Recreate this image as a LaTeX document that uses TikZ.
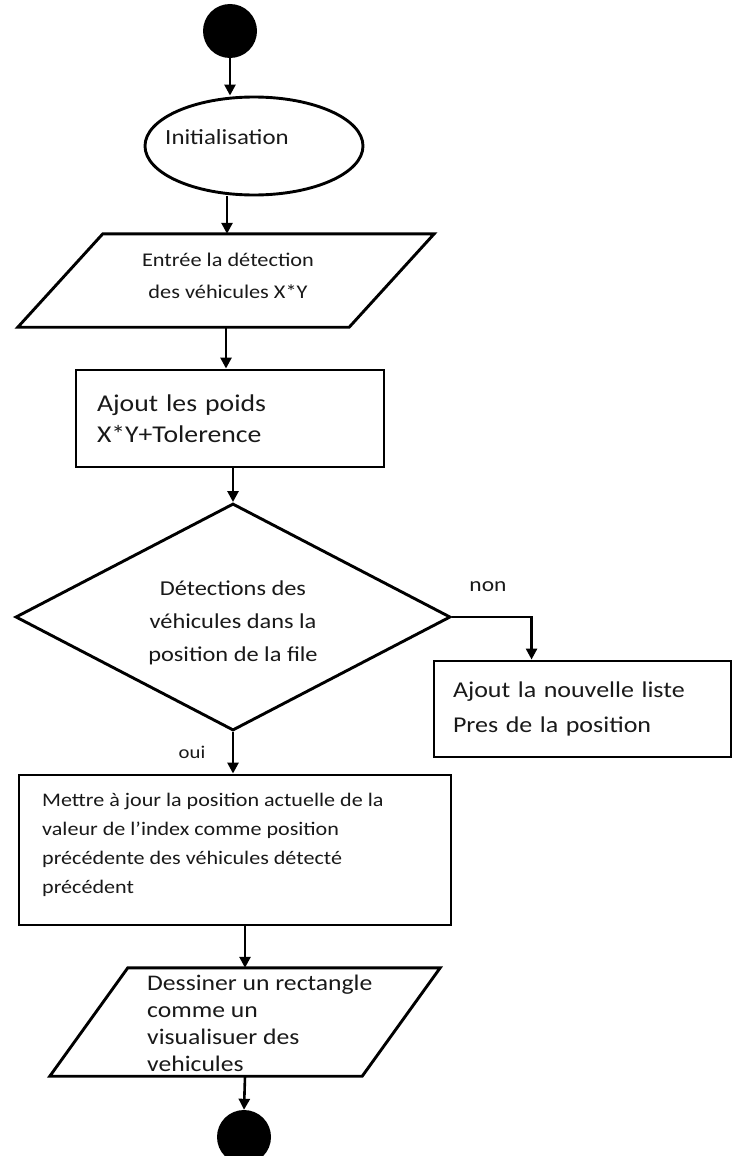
\documentclass[tikz,border=0pt]{standalone}
\usepackage{fontspec}
\setmainfont[FakeStretch=1.15]{Carlito}
\usetikzlibrary{shapes.geometric,arrows.meta}

\tikzset{
  flow/.style={draw=black, line width=2.9pt},
  arr/.style={line width=2.6pt, -{Triangle[length=11pt,width=11pt]}},
  term/.style={circle, fill=black, draw=none, minimum size=54pt, inner sep=0pt},
  procbox/.style={flow, rectangle, inner ysep=0pt, align=left, text=black!90},
  iobody/.style={rectangle, draw=none, inner sep=0pt},
  txt/.style={text=black!90, inner sep=0pt},
}

\begin{document}
\begin{tikzpicture}[x=1pt,y=-1pt]
\useasboundingbox (0,0) rectangle (734,1156);
\fill[white] (0,0) rectangle (734,1156);

% start and initialisation
\node[term] (start) at (230,31) {};
\node[flow, ellipse, minimum width=218pt, minimum height=98pt, inner sep=0pt] (init) at (254,146) {};
\node[txt, font=\fontsize{21.6}{26}\selectfont] (initText) at (227,137) {Initialisation};

% input of the detections (slanted box: body plus 42.5 on each side)
\node[iobody, minimum width=331pt, minimum height=93pt] (in1) at (226,280.5) {};
\draw[flow, line join=miter]
  ([xshift=42.5pt]in1.north west) -- ([xshift=42.5pt]in1.north east)
  -- ([xshift=-42.5pt]in1.south east) -- ([xshift=-42.5pt]in1.south west) -- cycle;
\node[txt, align=center, font=\fontsize{19.4}{32}\selectfont] (in1Text) at (228,276)
  {Entrée la détection\\des véhicules X*Y};

% weights
\node[procbox, minimum width=308pt, minimum height=97pt, text width=266pt, inner xsep=21pt,
      font=\fontsize{24.1}{31}\selectfont] (box1) at (230,418.5)
  {Ajout les poids\\X*Y+Tolerence};

% decision
\node[flow, diamond, minimum width=435pt, minimum height=227pt, inner sep=0pt] (dia) at (233,617) {};
\node[txt, align=center, font=\fontsize{21.2}{33}\selectfont] (diaText) at (233,623)
  {Détections des\\véhicules dans la\\position de la file};

% branch "non"
\node[procbox, minimum width=297pt, minimum height=96pt, text width=259pt, inner xsep=19pt,
      font=\fontsize{22.6}{35}\selectfont] (box3) at (582.5,709)
  {Ajout la nouvelle liste\\Pres de la position};

% branch "oui"
\node[procbox, minimum width=432pt, minimum height=150pt, text width=386pt, inner xsep=23pt,
      font=\fontsize{19.2}{29}\selectfont] (box2) at (235,850) {};
\node[txt, anchor=west, align=left, font=\fontsize{19.2}{29}\selectfont] (box2Text) at (42,845)
  {Mettre à jour la position actuelle de la\\valeur de l'index comme position\\précédente des véhicules détecté\\précédent};

% drawing output (slanted box: body plus 39 on each side)
\node[iobody, minimum width=312pt, minimum height=108pt] (in2) at (245,1022) {};
\draw[flow, line join=miter]
  ([xshift=39pt]in2.north west) -- ([xshift=39pt]in2.north east)
  -- ([xshift=-39pt]in2.south east) -- ([xshift=-39pt]in2.south west) -- cycle;
\node[txt, anchor=west, align=left, font=\fontsize{22.3}{27}\selectfont] (in2Text) at (147,1023)
  {Dessiner un rectangle\\comme un\\visualisuer des\\vehicules};

% end
\node[term] (end) at (244,1137) {};

% branch labels
\node[txt, font=\fontsize{20.4}{24}\selectfont] (nonLbl) at (488,587) {non};
\node[txt, font=\fontsize{18}{22}\selectfont] (ouiLbl) at (192,752) {oui};

% connectors
\draw[arr] (start.south) -- (start.south |- init.north);
\draw[arr] ([xshift=-27pt]init.south) -- ([xshift=-27pt]init.south |- in1.north);
\draw[arr] (in1.south) -- (in1.south |- box1.north);
\draw[arr] (dia.north |- box1.south) -- (dia.north);
\draw[arr] (dia.east) -| ([xshift=99pt]box3.north west);
\draw[arr] (dia.south) -- (dia.south |- box2.north);
\draw[arr] (in2.north |- box2.south) -- (in2.north);
\draw[arr] (in2.south) -- (end.north);
\end{tikzpicture}
\end{document}
